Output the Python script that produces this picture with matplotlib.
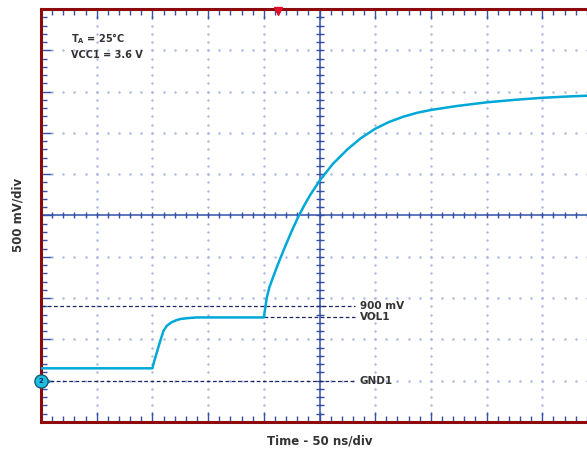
import numpy as np
import matplotlib
matplotlib.use("Agg")
import matplotlib.pyplot as plt

# scope trace, time in ns (50 ns/div), voltage in mV relative to GND (500 mV/div)
time_ns = [0, 60, 100, 101.5, 104, 107, 110, 113, 117, 121, 125, 132, 140, 170, 200,
           201.5, 202.6, 205, 208.5, 213, 219, 225, 231, 236, 241.5, 250, 262, 275,
           287, 300, 312, 325, 338, 351, 373, 400, 425, 450, 475, 490, 500]
trace_mv = [150, 150, 150, 230, 343, 480, 605, 665, 706, 730, 747, 758, 766, 766, 766,
            900, 1000, 1130, 1260, 1420, 1620, 1810, 1985, 2115, 2245, 2420, 2625, 2800,
            2935, 3050, 3130, 3195, 3245, 3280, 3325, 3370, 3400, 3425, 3442, 3450, 3455]

ref_levels = [900, 766, 0]
ref_labels = ["900 mV", "VOL1", "GND1"]
ref_start_ns = [0, 200, 8]
ref_end_ns = 282

trigger_ns = 213
conditions = ["T$_\\mathregular{A}$ = 25°C", "VCC1 = 3.6 V"]

ns_per_div = 50
mv_per_div = 500
x_lim = (0, 500)
y_lim = (-500, 4500)

frame_red = "#8e0a0a"
tick_blue = "#3550a8"
grid_dot = "#a9b7de"
trace_col = "#00a8d8"
text_col = "#333333"

fig = plt.figure(figsize=(5.87, 4.5), dpi=100)
ax = fig.add_axes([41 / 587, 28 / 450, 557 / 587, 413 / 450])
ax.set_xlim(*x_lim)
ax.set_ylim(*y_lim)

# dotted grid: dots on every minor position along each major line
xs_major = np.arange(x_lim[0], x_lim[1] + 1, ns_per_div)
ys_major = np.arange(y_lim[0], y_lim[1] + 1, mv_per_div)
xs_minor = np.arange(x_lim[0], x_lim[1] + 1, ns_per_div / 5)
ys_minor = np.arange(y_lim[0], y_lim[1] + 1, mv_per_div / 5)
for xv in xs_major[1:-1]:
    ax.scatter(np.full(len(ys_minor), xv), ys_minor, s=3, color=grid_dot, lw=0, zorder=1)
for yv in ys_major[1:-1]:
    ax.scatter(xs_minor, np.full(len(xs_minor), yv), s=3, color=grid_dot, lw=0, zorder=1)

# centre crosshair with small ticks
xc = (x_lim[0] + x_lim[1]) / 2
yc = (y_lim[0] + y_lim[1]) / 2
ax.axvline(xc, color=tick_blue, lw=1.1, zorder=2)
ax.axhline(yc, color=tick_blue, lw=1.1, zorder=2)
ax.plot(xs_minor, np.full(len(xs_minor), yc), ls="none", marker="|", ms=5,
        mew=1.0, color=tick_blue, zorder=2)
ax.plot(np.full(len(ys_minor), xc), ys_minor, ls="none", marker="_", ms=6,
        mew=1.0, color=tick_blue, zorder=2)

# reference dashed lines and labels
for lvl, lab, x0 in zip(ref_levels, ref_labels, ref_start_ns):
    ax.plot([x0, ref_end_ns], [lvl, lvl], color="#1c2466", lw=0.9,
            ls=(0, (3, 2)), zorder=3)
    ax.text(ref_end_ns + 4, lvl, lab, fontsize=7.5, fontweight="bold",
            color=text_col, va="center", ha="left", zorder=5)

# trace
ax.plot(time_ns, trace_mv, color=trace_col, lw=1.8, zorder=4,
        solid_capstyle="round", solid_joinstyle="round")

# ground marker for channel 2 and trigger marker
ax.plot([x_lim[0] + 4], [0], marker=">", ms=7, color="#19c0e0", mec="#1a7aa0",
        clip_on=False, zorder=6)
ax.plot([x_lim[0]], [0], marker="o", ms=9.5, color="#19c0e0", mec="#1a5a70",
        mew=1.0, clip_on=False, zorder=7)
ax.text(x_lim[0], 0, "2", fontsize=5, fontweight="bold", color="#10206a",
        ha="center", va="center", zorder=8, clip_on=False)
ax.plot([trigger_ns], [y_lim[1] - 30], marker="v", ms=6, color="#e0102a",
        clip_on=False, zorder=6)

# condition text
ax.text(27, 4140, conditions[0], fontsize=7, fontweight="bold", color=text_col,
        va="center", ha="left")
ax.text(27, 3940, conditions[1], fontsize=7, fontweight="bold", color=text_col,
        va="center", ha="left")

# frame and edge ticks
for sp in ax.spines.values():
    sp.set_color(frame_red)
    sp.set_linewidth(2.2)
ax.set_xticks(xs_major)
ax.set_xticks(xs_minor, minor=True)
ax.set_yticks(ys_major)
ax.set_yticks(ys_minor, minor=True)
ax.tick_params(which="both", direction="in", top=True, bottom=True, left=True,
               right=False, color=tick_blue, labelbottom=False, labelleft=False,
               width=1.0)
ax.tick_params(which="major", length=7)
ax.tick_params(which="minor", length=4)

fig.text(320 / 587, 1 - 441 / 450, "Time - 50 ns/div", fontsize=8.5,
         fontweight="bold", color=text_col, ha="center", va="center")
fig.text(18 / 587, 1 - 215 / 450, "500 mV/div", fontsize=8.5, fontweight="bold",
         color=text_col, ha="center", va="center", rotation=90)

fig.savefig("out.png", dpi=100)
